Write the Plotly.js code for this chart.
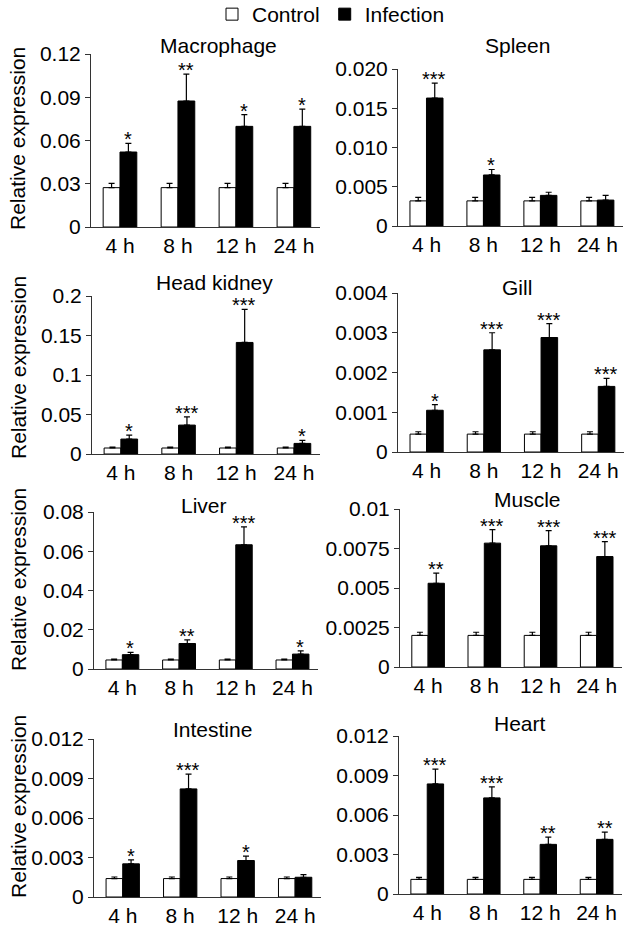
<!DOCTYPE html>
<html>
<head>
<meta charset="utf-8">
<script src="https://cdn.plot.ly/plotly-3.0.1.min.js"></script>
<style>
  body { margin: 0; background: #fff; }
  #chart { width: 633px; height: 926px; }
</style>
</head>
<body>
<div id="chart"></div>
<script>
const timepoints = ['4 h', '8 h', '12 h', '24 h'];
const tissues = ['Macrophage', 'Spleen', 'Head kidney', 'Gill', 'Liver', 'Muscle', 'Intestine', 'Heart'];

// relative expression, mean and SE (upper bar)
const macrophageControl = [0.0273, 0.0273, 0.0273, 0.0273];
const macrophageControlErr = [0.003, 0.003, 0.003, 0.003];
const macrophageInfection = [0.052, 0.0874, 0.0698, 0.0698];
const macrophageInfectionErr = [0.006, 0.0186, 0.0082, 0.012];
const macrophageStars = ['*', '**', '*', '*'];
const macrophageTicks = ['0', '0.03', '0.06', '0.09', '0.12'];

const spleenControl = [0.0032, 0.0032, 0.0032, 0.0032];
const spleenControlErr = [0.00045, 0.00045, 0.00045, 0.00045];
const spleenInfection = [0.0163, 0.0065, 0.0039, 0.0033];
const spleenInfectionErr = [0.0019, 0.0007, 0.0004, 0.0006];
const spleenStars = ['***', '*', '', ''];
const spleenTicks = ['0', '0.005', '0.010', '0.015', '0.020'];

const headKidneyControl = [0.0076, 0.0076, 0.0076, 0.0076];
const headKidneyControlErr = [0.0012, 0.0012, 0.0012, 0.0012];
const headKidneyInfection = [0.0189, 0.0366, 0.1412, 0.0134];
const headKidneyInfectionErr = [0.0051, 0.0104, 0.0418, 0.0038];
const headKidneyStars = ['*', '***', '***', '*'];
const headKidneyTicks = ['0', '0.05', '0.1', '0.15', '0.2'];

const gillControl = [0.00045, 0.00045, 0.00045, 0.00045];
const gillControlErr = [0.00006, 0.00006, 0.00006, 0.00006];
const gillInfection = [0.00105, 0.00257, 0.00288, 0.00165];
const gillInfectionErr = [0.00014, 0.00043, 0.00035, 0.0002];
const gillStars = ['*', '***', '***', '***'];
const gillTicks = ['0', '0.001', '0.002', '0.003', '0.004'];

const liverControl = [0.0046, 0.0046, 0.0046, 0.0046];
const liverControlErr = [0.0004, 0.0004, 0.0004, 0.0004];
const liverInfection = [0.0073, 0.013, 0.0633, 0.0076];
const liverInfectionErr = [0.0012, 0.0018, 0.0091, 0.0016];
const liverStars = ['*', '**', '***', '*'];
const liverTicks = ['0', '0.02', '0.04', '0.06', '0.08'];

const muscleControl = [0.002, 0.002, 0.002, 0.002];
const muscleControlErr = [0.0002, 0.0002, 0.0002, 0.0002];
const muscleInfection = [0.0053, 0.00784, 0.00767, 0.00699];
const muscleInfectionErr = [0.00064, 0.00085, 0.00096, 0.00094];
const muscleStars = ['**', '***', '***', '***'];
const muscleTicks = ['0', '0.0025', '0.005', '0.0075', '0.01'];

const intestineControl = [0.0014, 0.0014, 0.0014, 0.0014];
const intestineControlErr = [0.00012, 0.00012, 0.00012, 0.00012];
const intestineInfection = [0.00252, 0.00821, 0.00277, 0.0015];
const intestineInfectionErr = [0.0003, 0.00112, 0.00033, 0.0002];
const intestineStars = ['*', '***', '*', ''];
const intestineTicks = ['0', '0.003', '0.006', '0.009', '0.012'];

const heartControl = [0.00111, 0.00111, 0.00111, 0.00111];
const heartControlErr = [0.00016, 0.00016, 0.00016, 0.00016];
const heartInfection = [0.00836, 0.0073, 0.00377, 0.00415];
const heartInfectionErr = [0.00112, 0.00083, 0.00055, 0.00055];
const heartStars = ['***', '***', '**', '**'];
const heartTicks = ['0', '0.003', '0.006', '0.009', '0.012'];

const controls = [macrophageControl, spleenControl, headKidneyControl, gillControl, liverControl, muscleControl, intestineControl, heartControl];
const controlErrs = [macrophageControlErr, spleenControlErr, headKidneyControlErr, gillControlErr, liverControlErr, muscleControlErr, intestineControlErr, heartControlErr];
const infections = [macrophageInfection, spleenInfection, headKidneyInfection, gillInfection, liverInfection, muscleInfection, intestineInfection, heartInfection];
const infectionErrs = [macrophageInfectionErr, spleenInfectionErr, headKidneyInfectionErr, gillInfectionErr, liverInfectionErr, muscleInfectionErr, intestineInfectionErr, heartInfectionErr];
const stars = [macrophageStars, spleenStars, headKidneyStars, gillStars, liverStars, muscleStars, intestineStars, heartStars];
const yTicks = [macrophageTicks, spleenTicks, headKidneyTicks, gillTicks, liverTicks, muscleTicks, intestineTicks, heartTicks];

// layout in page pixels
const W = 633, H = 926;
const px = x => x / W;
const py = y => 1 - y / H;
// [left, right, top, bottom] of each plot area
const boxes = [
  [91, 320, 54, 227], [398, 623, 69, 226],
  [92, 320, 296, 454], [398, 624, 293, 452],
  [94, 318, 512, 669], [400, 622, 509, 667],
  [94, 321, 739, 897], [399, 622, 736, 894]
];
const titleAt = [[218, 45], [517, 45], [215, 283], [517, 287], [204, 505], [527, 500], [213, 729], [520, 723]];
const yTitleAt = [139, 368, 580, 807];

const font = 'Arial, "Liberation Sans", sans-serif';
const axisColor = '#333';

const traces = [];
const layout = {
  width: W,
  height: H,
  margin: { l: 0, r: 0, t: 0, b: 0, pad: 0, autoexpand: false },
  paper_bgcolor: '#fff',
  plot_bgcolor: '#fff',
  font: { family: font, size: 21, color: '#000' },
  barmode: 'group',
  bargap: 0.42,
  bargroupgap: 0,
  showlegend: true,
  legend: {
    orientation: 'h',
    x: px(212), y: py(-6), xanchor: 'left', yanchor: 'top',
    font: { size: 21 },
    bgcolor: 'rgba(0,0,0,0)',
    itemclick: false
  },
  annotations: []
};

tissues.forEach((name, i) => {
  const n = i + 1;
  const suffix = n === 1 ? '' : String(n);
  const b = boxes[i];
  const ticks = yTicks[i];
  const tickvals = ticks.map(Number);

  traces.push({
    type: 'bar',
    name: 'Control',
    x: timepoints,
    y: controls[i],
    xaxis: 'x' + suffix,
    yaxis: 'y' + suffix,
    marker: { color: '#fff', line: { color: '#000', width: 1 } },
    error_y: { type: 'data', symmetric: false, array: controlErrs[i], arrayminus: controlErrs[i].map(() => 0), color: '#000', thickness: 1.2, width: 3 },
    showlegend: i === 0,
    legendgroup: 'control'
  });
  traces.push({
    type: 'bar',
    name: 'Infection',
    x: timepoints,
    y: infections[i],
    xaxis: 'x' + suffix,
    yaxis: 'y' + suffix,
    marker: { color: '#000', line: { color: '#000', width: 1 } },
    error_y: { type: 'data', symmetric: false, array: infectionErrs[i], arrayminus: infectionErrs[i].map(() => 0), color: '#000', thickness: 1.2, width: 3 },
    showlegend: i === 0,
    legendgroup: 'infection'
  });

  layout['xaxis' + suffix] = {
    domain: [px(b[0]), px(b[1])],
    anchor: 'y' + suffix,
    type: 'category',
    range: [-0.5, 3.45],
    showline: true, linecolor: axisColor, linewidth: 1,
    ticks: '', showgrid: false, zeroline: false,
    tickfont: { size: 21 },
    fixedrange: true
  };
  layout['yaxis' + suffix] = {
    domain: [py(b[3]), py(b[2])],
    anchor: 'x' + suffix,
    range: [0, tickvals[tickvals.length - 1]],
    tickvals: tickvals,
    ticktext: ticks,
    ticks: 'outside', ticklen: 5, tickcolor: axisColor, tickwidth: 1,
    showline: true, linecolor: axisColor, linewidth: 1,
    showgrid: false, zeroline: false,
    tickfont: { size: 21 },
    fixedrange: true
  };

  // panel title
  layout.annotations.push({
    xref: 'paper', yref: 'paper',
    x: px(titleAt[i][0]), y: py(titleAt[i][1]),
    xanchor: 'center', yanchor: 'middle',
    text: name, showarrow: false,
    font: { size: 21 }
  });

  // significance marks above the infection bars
  stars[i].forEach((s, j) => {
    if (!s) return;
    layout.annotations.push({
      xref: 'x' + suffix, yref: 'y' + suffix,
      x: timepoints[j], y: infections[i][j] + infectionErrs[i][j],
      xanchor: 'center', yanchor: 'bottom',
      xshift: 8, yshift: -9,
      text: s, showarrow: false,
      font: { size: 20 }
    });
  });
});

// y titles on the left column
yTitleAt.forEach(y => {
  layout.annotations.push({
    xref: 'paper', yref: 'paper',
    x: px(18), y: py(y),
    xanchor: 'center', yanchor: 'middle',
    text: 'Relative expression', textangle: -90, showarrow: false,
    font: { size: 21 }
  });
});

Plotly.newPlot('chart', traces, layout, { staticPlot: true, displayModeBar: false });
</script>
</body>
</html>
